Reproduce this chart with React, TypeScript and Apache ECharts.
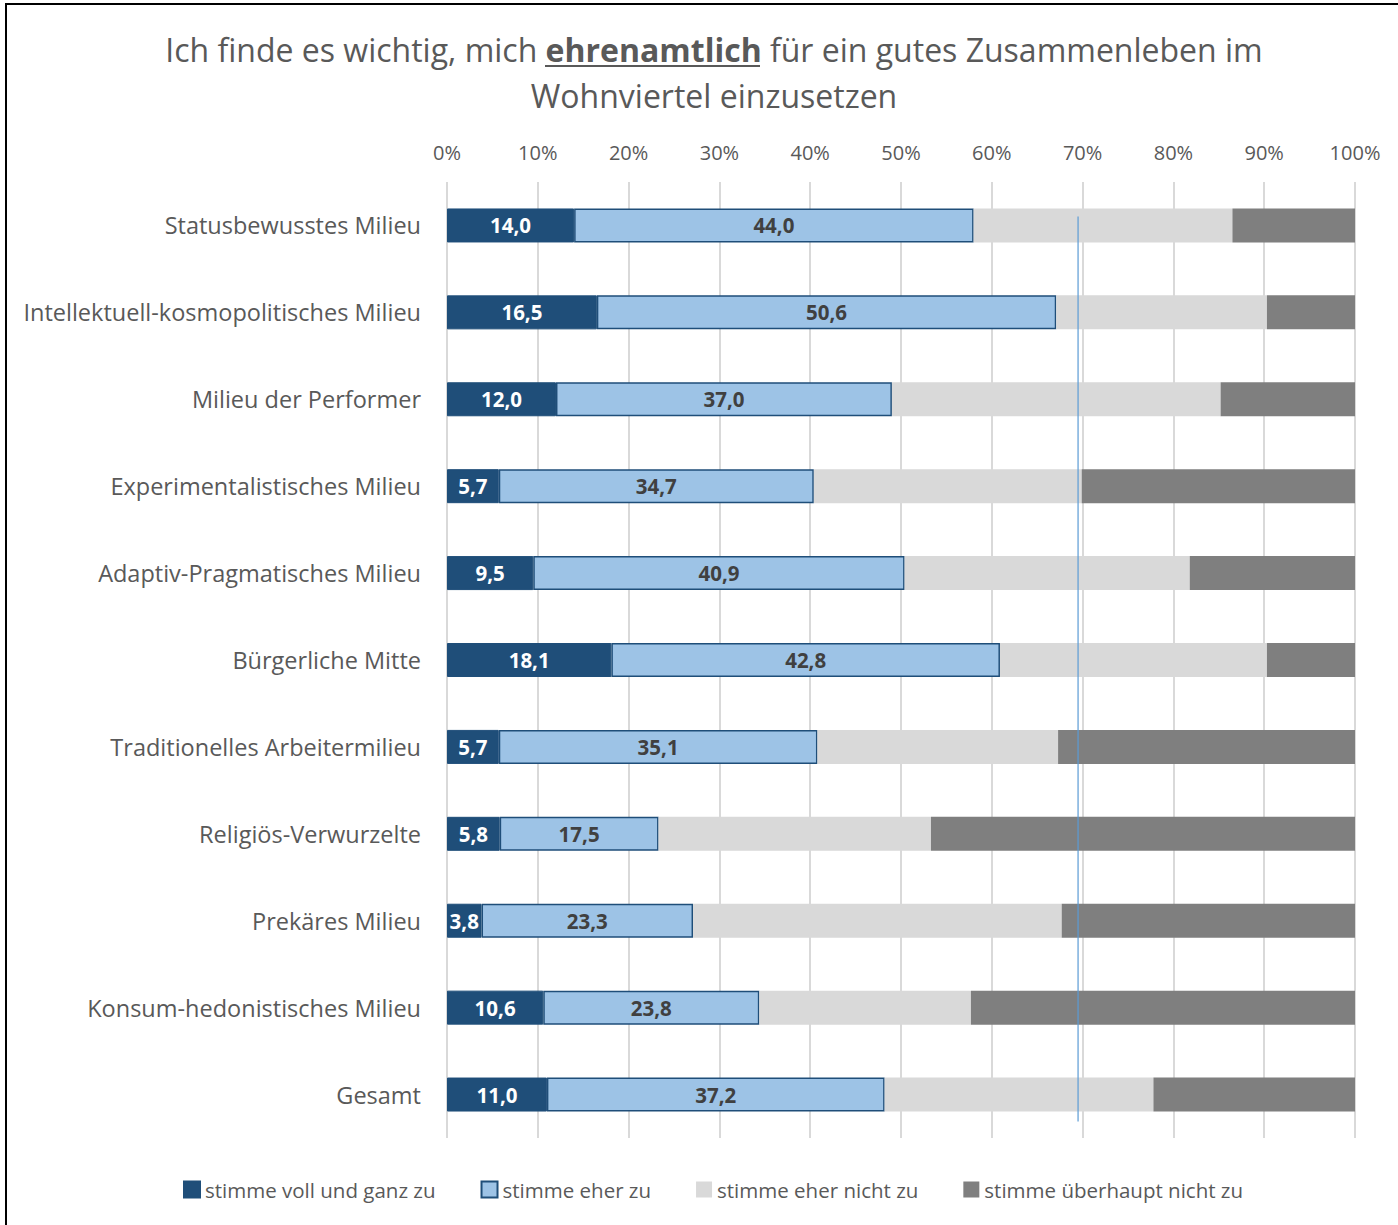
import React, { useEffect, useRef } from "react";
import * as echarts from "echarts";

const categories = [
  "Statusbewusstes Milieu",
  "Intellektuell-kosmopolitisches Milieu",
  "Milieu der Performer",
  "Experimentalistisches Milieu",
  "Adaptiv-Pragmatisches Milieu",
  "Bürgerliche Mitte",
  "Traditionelles Arbeitermilieu",
  "Religiös-Verwurzelte",
  "Prekäres Milieu",
  "Konsum-hedonistisches Milieu",
  "Gesamt",
];

const seriesNames = [
  "stimme voll und ganz zu",
  "stimme eher zu",
  "stimme eher nicht zu",
  "stimme überhaupt nicht zu",
];

const vollUndGanz = [14.0, 16.5, 12.0, 5.7, 9.5, 18.1, 5.7, 5.8, 3.8, 10.6, 11.0];
const eherZu = [44.0, 50.6, 37.0, 34.7, 40.9, 42.8, 35.1, 17.5, 23.3, 23.8, 37.2];
const eherNicht = [28.5, 23.2, 36.2, 29.5, 31.4, 29.4, 26.5, 30.0, 40.6, 23.3, 29.6];
const ueberhauptNicht = [13.5, 9.7, 14.8, 30.1, 18.2, 9.7, 32.7, 46.7, 32.3, 42.3, 22.2];

const xTicks = [0, 10, 20, 30, 40, 50, 60, 70, 80, 90, 100];
const referenceValue = 69.5;

const FONT = "'Open Sans', 'Noto Sans', sans-serif";
const TEXT = "#595959";
const DARK_BLUE = "#1F4E79";
const LIGHT_BLUE = "#9DC3E6";
const LIGHT_GREY = "#D9D9D9";
const DARK_GREY = "#7F7F7F";

const fmt = (v: number) => v.toFixed(1).replace(".", ",");

export default function App() {
  const ref = useRef<HTMLDivElement>(null);

  useEffect(() => {
    document.body.style.margin = "0";
    if (!ref.current) return;
    const chart = echarts.init(ref.current, undefined, { renderer: "svg" });

    const barWidth = 34;
    const labelStyle = {
      show: true,
      position: "inside",
      formatter: (p: any) => fmt(p.value),
      fontWeight: "bold",
      fontFamily: FONT,
      fontSize: 20.5,
    };
    const option: any = {
      animation: false,
      backgroundColor: "#FFFFFF",
      textStyle: { fontFamily: FONT },
      title: {
        text:
          "{a|Ich finde es wichtig, mich }{b|ehrenamtlich}{a| für ein gutes Zusammenleben im}\n{a|Wohnviertel einzusetzen}",
        left: 709,
        top: 21,
        textAlign: "center",
        textStyle: {
          fontWeight: "normal",
          rich: {
            a: { fontFamily: FONT, fontSize: 32, color: TEXT, fontWeight: "normal", lineHeight: 46 },
            b: { fontFamily: FONT, fontSize: 32, color: TEXT, fontWeight: "bold", lineHeight: 46 },
          },
        },
      },
      legend: {
        bottom: 20,
        left: 178,
        icon: "rect",
        itemWidth: 16,
        itemHeight: 16,
        itemGap: 45,
        textStyle: { fontFamily: FONT, fontSize: 20.5, color: TEXT },
        data: seriesNames,
      },
      grid: { left: 447, right: 43, top: 182, bottom: 87, containLabel: false },
      xAxis: {
        type: "value",
        position: "top",
        min: 0,
        max: 100,
        interval: 10,
        axisLabel: {
          formatter: (v: number) => (xTicks.includes(v) ? v + "%" : ""),
          fontFamily: FONT,
          fontSize: 20,
          color: TEXT,
          margin: 20,
        },
        axisLine: { show: false },
        axisTick: { show: false },
        splitLine: { lineStyle: { color: LIGHT_GREY, width: 2 } },
      },
      yAxis: {
        type: "category",
        inverse: true,
        data: categories,
        axisLabel: { fontFamily: FONT, fontSize: 23.5, color: TEXT, margin: 26 },
        axisLine: { show: false },
        axisTick: { show: false },
      },
      series: [
        {
          name: seriesNames[0],
          type: "bar",
          stack: "total",
          barWidth,
          data: vollUndGanz,
          itemStyle: { color: DARK_BLUE, borderColor: DARK_BLUE, borderWidth: 1 },
          label: { ...labelStyle, color: "#FFFFFF" },
        },
        {
          name: seriesNames[1],
          type: "bar",
          stack: "total",
          barWidth,
          data: eherZu,
          itemStyle: { color: LIGHT_BLUE, borderColor: DARK_BLUE, borderWidth: 1.5 },
          label: { ...labelStyle, color: "#404040" },
        },
        {
          name: seriesNames[2],
          type: "bar",
          stack: "total",
          barWidth,
          data: eherNicht,
          itemStyle: { color: LIGHT_GREY },
        },
        {
          name: seriesNames[3],
          type: "bar",
          stack: "total",
          barWidth,
          data: ueberhauptNicht,
          itemStyle: { color: DARK_GREY },
        },
      ],
    };
    chart.setOption(option);

    // reference line and frame placed in pixel space after layout
    const x = chart.convertToPixel({ gridIndex: 0 }, [referenceValue, 0])[0];
    const yTop = chart.convertToPixel({ gridIndex: 0 }, [0, 0])[1] - 9;
    const yBottom = chart.convertToPixel({ gridIndex: 0 }, [0, categories.length - 1])[1] + 27;
    chart.setOption({
      graphic: [
        {
          type: "rect",
          shape: { x: 6, y: 4, width: 1420, height: 1250 },
          style: { fill: "none", stroke: "#000000", lineWidth: 2 },
          z: 100,
        },
        {
          type: "line",
          shape: { x1: x, y1: yTop, x2: x, y2: yBottom },
          style: { stroke: "#5B9BD5", lineWidth: 1.2 },
          z: 100,
        },
        {
          type: "line",
          shape: { x1: 545, y1: 66, x2: 760, y2: 66 },
          style: { stroke: TEXT, lineWidth: 2 },
          z: 100,
        },
      ],
    });

    return () => chart.dispose();
  }, []);

  return <div ref={ref} style={{ width: 1398, height: 1225 }} />;
}
